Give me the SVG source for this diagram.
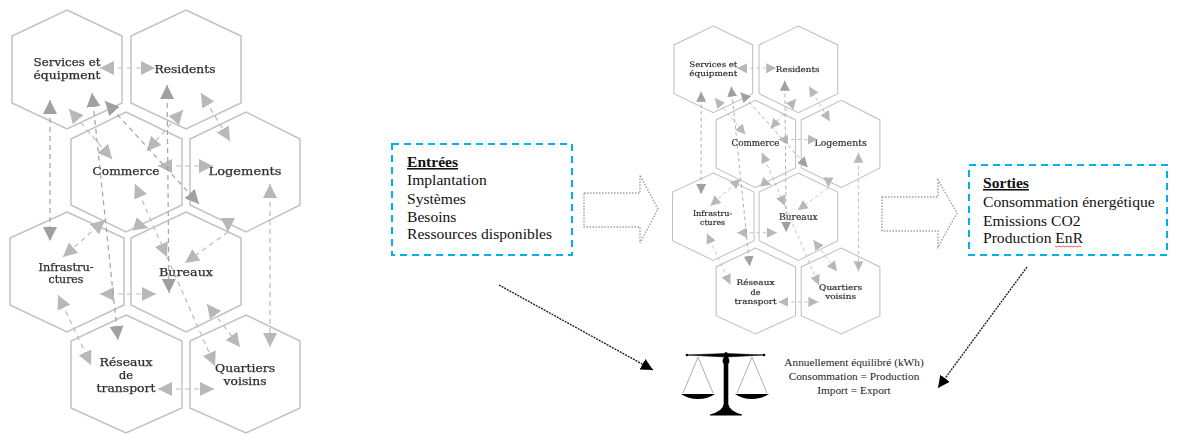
<svg xmlns="http://www.w3.org/2000/svg" width="1184" height="434" viewBox="0 0 1184 434">
<style>
.hex{fill:none;stroke:#c2c2c2;stroke-width:1.5}
.lab{font-family:"DejaVu Serif","Liberation Serif",serif;font-size:10.5px;fill:#2e2e2e;stroke:#2e2e2e;stroke-width:.25;text-anchor:middle}
.big{font-size:11.5px}
.c{fill:none;stroke-width:1.2;stroke-dasharray:5 4}
.li{stroke:#bcbcbc;marker-start:url(#hl);marker-end:url(#hl)}
.lo{stroke:#bcbcbc;marker-end:url(#hl)}
.da{stroke:#a4a4a4;marker-start:url(#hd);marker-end:url(#hd)}
.box{fill:none;stroke:#00b0f0;stroke-width:2;stroke-dasharray:7 5}
.out{fill:none;stroke:#a0a0a0;stroke-width:1.4;stroke-dasharray:1.5 1.5}
.t{font-family:"Liberation Serif",serif;font-size:15.6px;fill:#111}
.h{font-weight:bold;text-decoration:underline}
.eq{font-family:"Liberation Serif",serif;font-size:11.3px;fill:#222;text-anchor:middle}
.dot{fill:none;stroke:#222;stroke-width:1.4;stroke-dasharray:2 1;marker-end:url(#hb)}
.soft{filter:url(#soft)}
</style>
<defs>
<filter id="soft" x="-5%" y="-5%" width="110%" height="110%"><feGaussianBlur stdDeviation="0.4"/></filter>
<marker id="hl" viewBox="0 0 14 14" refX="14" refY="7" markerWidth="14" markerHeight="14" markerUnits="userSpaceOnUse" orient="auto-start-reverse"><path d="M0 0L14 7L0 14Z" fill="#b8b8b8"/></marker>
<marker id="hd" viewBox="0 0 14 14" refX="14" refY="7" markerWidth="14" markerHeight="14" markerUnits="userSpaceOnUse" orient="auto-start-reverse"><path d="M0 0L14 7L0 14Z" fill="#a0a0a0"/></marker>
<marker id="hb" viewBox="0 0 12 12" refX="12" refY="6" markerWidth="12" markerHeight="12" markerUnits="userSpaceOnUse" orient="auto"><path d="M0 0L12 6L0 12Z" fill="#000"/></marker>
</defs>

<g id="cluster-left" class="soft">
<g id="left-services"><polygon class="hex" points="67,10 122,36 122,103 67,129 12,103 12,36"/><text class="lab" x="67" y="66" textLength="67" lengthAdjust="spacingAndGlyphs">Services et</text><text class="lab" x="67" y="79" textLength="67" lengthAdjust="spacingAndGlyphs">équipment</text></g>
<g id="left-residents"><polygon class="hex" points="186,10 241,36 241,103 186,129 131,103 131,36"/><text class="lab" x="185" y="73" textLength="61" lengthAdjust="spacingAndGlyphs">Residents</text></g>
<g id="left-commerce"><polygon class="hex" points="126,112 182,139 182,205 126,232 71,205 71,139"/><text class="lab big" x="126" y="175" textLength="67" lengthAdjust="spacingAndGlyphs">Commerce</text></g>
<g id="left-logements"><polygon class="hex" points="246,112 300,139 300,205 246,232 190,205 190,139"/><text class="lab big" x="245" y="175" textLength="73" lengthAdjust="spacingAndGlyphs">Logements</text></g>
<g id="left-infrastructures"><polygon class="hex" points="67,212 124,238 124,305 67,332 10,305 10,238"/><text class="lab" x="66" y="271" textLength="55" lengthAdjust="spacingAndGlyphs">Infrastru-</text><text class="lab" x="66" y="283" textLength="35" lengthAdjust="spacingAndGlyphs">ctures</text></g>
<g id="left-bureaux"><polygon class="hex" points="186,212 241,238 241,305 186,332 131,305 131,238"/><text class="lab big" x="186" y="276" textLength="54" lengthAdjust="spacingAndGlyphs">Bureaux</text></g>
<g id="left-reseaux"><polygon class="hex" points="126,315 182,341 182,408 126,433 71,408 71,341"/><text class="lab" x="126" y="366" textLength="53" lengthAdjust="spacingAndGlyphs">Réseaux</text><text class="lab" x="126" y="379" textLength="14" lengthAdjust="spacingAndGlyphs">de</text><text class="lab" x="126" y="392" textLength="59" lengthAdjust="spacingAndGlyphs">transport</text></g>
<g id="left-quartiers"><polygon class="hex" points="246,315 300,341 300,408 246,433 190,408 190,341"/><text class="lab" x="245" y="372" textLength="60" lengthAdjust="spacingAndGlyphs">Quartiers</text><text class="lab" x="245" y="385" textLength="43" lengthAdjust="spacingAndGlyphs">voisins</text></g>
<g id="left-connectors">
<path class="c li" d="M100 68H155"/><path class="c li" d="M69 109L112 159"/><path class="c li" d="M183 110L147 151"/><path class="c li" d="M201 93L230 141"/><path class="c li" d="M158 166H213"/><path class="c li" d="M135 184L167 257"/><path class="c lo" d="M167 257L215 366"/><path class="c li" d="M270 184V347"/><path class="c li" d="M105 220L63 257"/><path class="c lo" d="M228 232L185 263"/><path class="c lo" d="M228 222V232"/><path class="c lo" d="M135 224L148 228"/><path class="c li" d="M207 304L240 347"/><path class="c li" d="M58 295L91 365"/><path class="c li" d="M100 294H156"/><path class="c li" d="M158 389H214"/>
<path class="c da" d="M50 100V241"/><path class="c da" d="M92 93L118 340"/><path class="c da" d="M105 101L199 204"/><path class="c da" d="M167 85L169 293"/>
</g>
</g>

<g id="cluster-right" class="soft" transform="matrix(.715 0 0 .728 665.4 18.72)">
<g id="right-services"><polygon class="hex" points="67,10 122,36 122,103 67,129 12,103 12,36"/><text class="lab" x="67" y="66" textLength="67" lengthAdjust="spacingAndGlyphs">Services et</text><text class="lab" x="67" y="79" textLength="67" lengthAdjust="spacingAndGlyphs">équipment</text></g>
<g id="right-residents"><polygon class="hex" points="186,10 241,36 241,103 186,129 131,103 131,36"/><text class="lab" x="185" y="73" textLength="61" lengthAdjust="spacingAndGlyphs">Residents</text></g>
<g id="right-commerce"><polygon class="hex" points="126,112 182,139 182,205 126,232 71,205 71,139"/><text class="lab big" x="126" y="175" textLength="67" lengthAdjust="spacingAndGlyphs">Commerce</text></g>
<g id="right-logements"><polygon class="hex" points="246,112 300,139 300,205 246,232 190,205 190,139"/><text class="lab big" x="245" y="175" textLength="73" lengthAdjust="spacingAndGlyphs">Logements</text></g>
<g id="right-infrastructures"><polygon class="hex" points="67,212 124,238 124,305 67,332 10,305 10,238"/><text class="lab" x="66" y="271" textLength="55" lengthAdjust="spacingAndGlyphs">Infrastru-</text><text class="lab" x="66" y="283" textLength="35" lengthAdjust="spacingAndGlyphs">ctures</text></g>
<g id="right-bureaux"><polygon class="hex" points="186,212 241,238 241,305 186,332 131,305 131,238"/><text class="lab big" x="186" y="276" textLength="54" lengthAdjust="spacingAndGlyphs">Bureaux</text></g>
<g id="right-reseaux"><polygon class="hex" points="126,315 182,341 182,408 126,433 71,408 71,341"/><text class="lab" x="126" y="366" textLength="53" lengthAdjust="spacingAndGlyphs">Réseaux</text><text class="lab" x="126" y="379" textLength="14" lengthAdjust="spacingAndGlyphs">de</text><text class="lab" x="126" y="392" textLength="59" lengthAdjust="spacingAndGlyphs">transport</text></g>
<g id="right-quartiers"><polygon class="hex" points="246,315 300,341 300,408 246,433 190,408 190,341"/><text class="lab" x="245" y="372" textLength="60" lengthAdjust="spacingAndGlyphs">Quartiers</text><text class="lab" x="245" y="385" textLength="43" lengthAdjust="spacingAndGlyphs">voisins</text></g>
<g id="right-connectors">
<path class="c li" d="M100 68H155"/><path class="c li" d="M69 109L112 159"/><path class="c li" d="M183 110L147 151"/><path class="c li" d="M201 93L230 141"/><path class="c li" d="M158 166H213"/><path class="c li" d="M135 184L167 257"/><path class="c lo" d="M167 257L215 366"/><path class="c li" d="M270 184V347"/><path class="c li" d="M105 220L63 257"/><path class="c lo" d="M228 232L185 263"/><path class="c lo" d="M228 222V232"/><path class="c lo" d="M135 224L148 228"/><path class="c li" d="M207 304L240 347"/><path class="c li" d="M58 295L91 365"/><path class="c li" d="M100 294H156"/><path class="c li" d="M158 389H214"/>
<path class="c da" d="M50 100V241"/><path class="c da" d="M92 93L118 340"/><path class="c da" d="M105 101L199 204"/><path class="c da" d="M167 85L169 293"/>
</g>
</g>

<g id="entrees">
<rect class="box" x="392" y="144" width="180" height="111"/>
<text class="t h" x="407" y="167">Entrées</text>
<text class="t" x="407" y="185">Implantation</text>
<text class="t" x="407" y="204">Systèmes</text>
<text class="t" x="407" y="222">Besoins</text>
<text class="t" x="407" y="239">Ressources disponibles</text>
</g>
<g id="sorties">
<rect class="box" x="969" y="165" width="198" height="90"/>
<text class="t h" x="983" y="188">Sorties</text>
<text class="t" x="983" y="207">Consommation énergétique</text>
<text class="t" x="983" y="226">Emissions CO2</text>
<text class="t" x="983" y="243">Production EnR</text>
<path d="M1055 246l2 1 2-1 2 1 2-1 2 1 2-1 2 1 2-1 2 1 2-1 2 1 2-1 2 1" fill="none" stroke="#d04040" stroke-width=".8"/>
</g>
<g id="balance">
<g id="scale-icon" class="soft">
<path d="M698 357L683 393M698 357L713 393M752 357L737 393M752 357L767 393" fill="none" stroke="#999" stroke-width=".8"/>
<path d="M687 355L726 353.5L764 355L726 357Z" fill="#000" stroke="#000" stroke-width=".6"/>
<circle cx="687" cy="355" r="1.3"/><circle cx="764" cy="355" r="1.3"/><circle cx="726" cy="361" r="3.4"/><circle cx="726" cy="353.5" r="1.6"/>
<path d="M723.7 355H728.3V404Q729 411 742 414.5V415.5H710V414.5Q723 411 723.7 404Z" fill="#000"/>
<path d="M681 394H715Q708 399 698 399Q688 399 681 394Z" fill="#000"/>
<path d="M735 394H769Q762 399 752 399Q742 399 735 394Z" fill="#000"/>
</g>
<text class="eq" x="854" y="366">Annuellement équilibré (kWh)</text>
<text class="eq" x="854" y="380">Consommation = Production</text>
<text class="eq" x="854" y="394">Import = Export</text>
</g>
<g id="connectors">
<path class="out" d="M584 193H640V175L658 209L640 243V227H584Z"/>
<path class="out" d="M882 197H938V180L957 213L938 247V231H882Z"/>
<path class="dot" d="M499 285L653 370"/>
<path class="dot" d="M1027 267L938 388"/>
</g>
</svg>
